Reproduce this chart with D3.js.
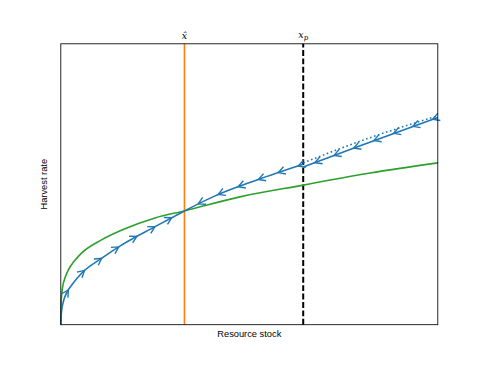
<!DOCTYPE html>
<html>
<head>
<meta charset="utf-8">
<script src="https://cdn.jsdelivr.net/npm/d3@7"></script>
<style>
  body { margin: 0; background: #fff; }
  svg { display: block; }
</style>
</head>
<body>
<div id="chart"></div>
<script>
// critical points (resource stock)
const xHat = 0.328;
const xP = 0.643;

// growth curve (green)
const growthX = [0, 0.0013, 0.0045, 0.011, 0.020, 0.038, 0.055, 0.108, 0.162, 0.250, 0.328, 0.475, 0.643, 0.820, 1.0];
const growthY = [0, 0.088, 0.131, 0.166, 0.195, 0.230, 0.255, 0.302, 0.337, 0.380, 0.405, 0.455, 0.497, 0.540, 0.576];

// optimal harvest path, below x-hat
const pathLowX = [0, 0.0005, 0.0024, 0.0066, 0.011, 0.020, 0.029, 0.055, 0.108, 0.162, 0.250, 0.328];
const pathLowY = [0, 0.024, 0.052, 0.081, 0.100, 0.124, 0.141, 0.183, 0.236, 0.284, 0.349, 0.405];

// harvest path between x-hat and x_p
const pathMidX = [0.328, 0.405, 0.520, 0.643];
const pathMidY = [0.405, 0.456, 0.515, 0.571];

// harvest path above x_p
const pathHighX = [0.643, 0.785, 1.0];
const pathHighY = [0.561, 0.633, 0.738];

// continuation of the middle path (dotted)
const pathDotX = [0.643, 0.785, 1.0];
const pathDotY = [0.576, 0.649, 0.744];

// arrow positions along each path
const arrowsLowX = [0.020, 0.064, 0.108, 0.153, 0.201, 0.250, 0.294];
const arrowsLowY = [0.124, 0.192, 0.236, 0.277, 0.316, 0.349, 0.383];
const arrowsMidX = [0.365, 0.418, 0.471, 0.524, 0.577, 0.630];
const arrowsMidY = [0.429, 0.462, 0.490, 0.517, 0.541, 0.565];
const arrowsHighX = [0.674, 0.726, 0.778, 0.831, 0.883, 0.934, 0.987];
const arrowsHighY = [0.575, 0.601, 0.627, 0.653, 0.679, 0.705, 0.731];

const width = 487, height = 365;
const mLeft = 60.8, mRight = 437.8, mTop = 43.8, mBottom = 324.7;

const svg = d3.select("#chart").append("svg")
    .attr("width", width)
    .attr("height", height);

const x = d3.scaleLinear().domain([0, 1]).range([mLeft, mRight]);
const y = d3.scaleLinear().domain([0, 1]).range([mBottom, mTop]);

const zip = (xs, ys) => xs.map((v, i) => [v, ys[i]]);

const line = d3.line()
    .x(d => x(d[0]))
    .y(d => y(d[1]))
    .curve(d3.curveMonotoneX);

const plot = svg.append("g");

// vertical markers
plot.append("line")
    .attr("x1", x(xHat)).attr("x2", x(xHat))
    .attr("y1", y(0)).attr("y2", y(1))
    .attr("stroke", "#ff7f0e")
    .attr("stroke-width", 1.6);

plot.append("line")
    .attr("x1", x(xP)).attr("x2", x(xP))
    .attr("y1", y(0)).attr("y2", y(1))
    .attr("stroke", "#000")
    .attr("stroke-width", 2)
    .attr("stroke-dasharray", "5.9,2.5");

// growth curve
plot.append("path")
    .datum(zip(growthX, growthY))
    .attr("fill", "none")
    .attr("stroke", "#2ca02c")
    .attr("stroke-width", 1.6)
    .attr("d", line);

// harvest paths
const paths = [
    { xs: pathLowX, ys: pathLowY, ax: arrowsLowX, ay: arrowsLowY, dir: 1 },
    { xs: pathMidX, ys: pathMidY, ax: arrowsMidX, ay: arrowsMidY, dir: -1 },
    { xs: pathHighX, ys: pathHighY, ax: arrowsHighX, ay: arrowsHighY, dir: -1 }
];

plot.append("path")
    .datum(zip(pathDotX, pathDotY))
    .attr("fill", "none")
    .attr("stroke", "#1f77b4")
    .attr("stroke-width", 1.6)
    .attr("stroke-dasharray", "1.6,2.6")
    .attr("d", line);

paths.forEach(p => {
    const node = plot.append("path")
        .datum(zip(p.xs, p.ys))
        .attr("fill", "none")
        .attr("stroke", "#1f77b4")
        .attr("stroke-width", 1.6)
        .attr("d", line)
        .node();

    // sample the drawn path to get the local direction at each arrow
    const total = node.getTotalLength();
    const samples = d3.range(0, total + 0.5, 0.5).map(l => node.getPointAtLength(Math.min(l, total)));

    p.ax.forEach((ax, i) => {
        const px = x(ax), py = y(p.ay[i]);
        let best = 0, bestD = Infinity;
        samples.forEach((s, k) => {
            const d = (s.x - px) ** 2 + (s.y - py) ** 2;
            if (d < bestD) { bestD = d; best = k; }
        });
        const a = samples[Math.max(0, best - 4)];
        const b = samples[Math.min(samples.length - 1, best + 4)];
        let ux = b.x - a.x, uy = b.y - a.y;
        const n = Math.hypot(ux, uy);
        ux = ux / n * p.dir; uy = uy / n * p.dir;
        const tip = samples[best];
        const L = 6.8, W = 3.8;
        const bx = tip.x - L * ux, by = tip.y - L * uy;
        plot.append("path")
            .attr("d", `M${bx - W * uy},${by + W * ux}L${tip.x},${tip.y}L${bx + W * uy},${by - W * ux}`)
            .attr("fill", "none")
            .attr("stroke", "#1f77b4")
            .attr("stroke-width", 1.4)
            .attr("stroke-linejoin", "miter");
    });
});

// frame
svg.append("rect")
    .attr("x", mLeft).attr("y", mTop)
    .attr("width", mRight - mLeft).attr("height", mBottom - mTop)
    .attr("fill", "none")
    .attr("stroke", "#000")
    .attr("stroke-width", 0.85);

// axis labels
svg.append("text")
    .attr("x", (mLeft + mRight) / 2)
    .attr("y", 337)
    .attr("text-anchor", "middle")
    .attr("font-family", "Liberation Sans, Arial, sans-serif")
    .attr("font-size", 9.3)
    .text("Resource stock");

svg.append("text")
    .attr("transform", `translate(47,${(mTop + mBottom) / 2}) rotate(-90)`)
    .attr("text-anchor", "middle")
    .attr("font-family", "Liberation Sans, Arial, sans-serif")
    .attr("font-size", 9.3)
    .text("Harvest rate");

// top labels for the critical stocks
svg.append("text")
    .attr("x", x(xHat))
    .attr("y", 39)
    .attr("text-anchor", "middle")
    .attr("font-family", "DejaVu Serif, serif")
    .attr("font-style", "italic")
    .attr("font-size", 9.5)
    .text("x\u0302");

const pLabel = svg.append("text")
    .attr("x", x(xP))
    .attr("y", 38)
    .attr("text-anchor", "middle")
    .attr("font-family", "DejaVu Serif, serif")
    .attr("font-style", "italic")
    .attr("font-size", 9.5);
pLabel.append("tspan").text("x");
pLabel.append("tspan").attr("font-size", 7).attr("dy", 2).text("p");
</script>
</body>
</html>
